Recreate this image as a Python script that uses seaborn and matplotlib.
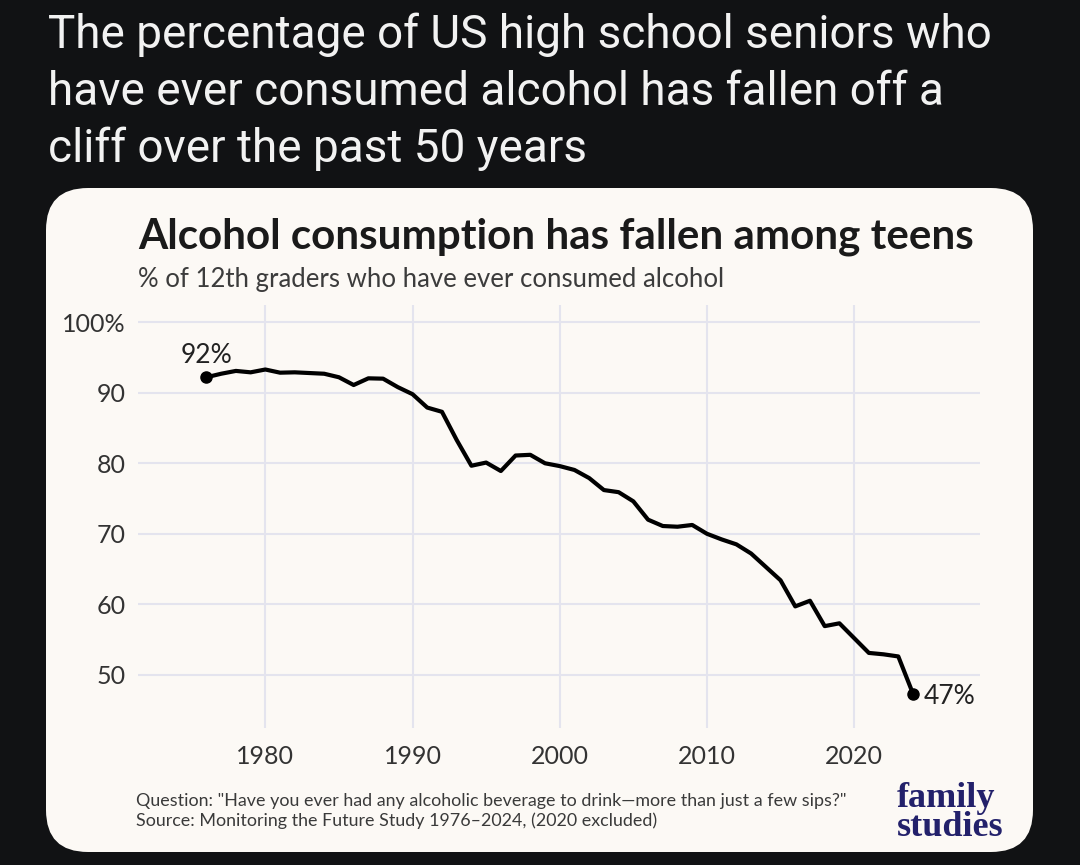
import matplotlib
matplotlib.use("Agg")
import seaborn as sns
from matplotlib import pyplot as plt
from matplotlib.patches import FancyBboxPatch

# data (2020 excluded)
years = [1976, 1977, 1978, 1979, 1980, 1981, 1982, 1983, 1984, 1985,
         1986, 1987, 1988, 1989, 1990, 1991, 1992, 1993, 1994, 1995,
         1996, 1997, 1998, 1999, 2000, 2001, 2002, 2003, 2004, 2005,
         2006, 2007, 2008, 2009, 2010, 2011, 2012, 2013, 2014, 2015,
         2016, 2017, 2018, 2019, 2021, 2022, 2023, 2024]
pct_ever_drank = [92.2, 92.7, 93.1, 92.9, 93.3, 92.85, 92.9, 92.8, 92.7, 92.2,
                  91.1, 92.05, 92.0, 90.8, 89.8, 87.9, 87.3, 83.3, 79.65, 80.1,
                  78.9, 81.1, 81.2, 80.0, 79.6, 79.05, 77.9, 76.2, 75.9, 74.6,
                  72.0, 71.1, 71.0, 71.25, 70.0, 69.2, 68.5, 67.2, 65.3, 63.4,
                  59.7, 60.5, 56.9, 57.3, 53.1, 52.9, 52.6, 47.3]

x_ticks = [1980, 1990, 2000, 2010, 2020]
y_ticks = [50, 60, 70, 80, 90, 100]
y_tick_labels = ["50", "60", "70", "80", "90", "100%"]

header_lines = ["The percentage of US high school seniors who",
                "have ever consumed alcohol has fallen off a",
                "cliff over the past 50 years"]
chart_title = "Alcohol consumption has fallen among teens"
chart_subtitle = "% of 12th graders who have ever consumed alcohol"
footnote_lines = ['Question: "Have you ever had any alcoholic beverage to drink\u2014more than just a few sips?"',
                  "Source: Monitoring the Future Study 1976\u20132024, (2020 excluded)"]
logo_text = "family\nstudies"

BG = "#111214"
CARD = "#fcf9f5"
GRID = "#e4e4ee"
INK = "#333333"

sns.set_theme(style="whitegrid")
plt.rcParams['font.family'] = ['Lato', 'DejaVu Sans']

W, H = 1080, 865
fig = plt.figure(figsize=(W / 100, H / 100), dpi=100, facecolor=BG)


def fx(px):
    return px / W


def fy(py):
    return 1 - py / H


# rounded card behind the chart
card = FancyBboxPatch((0.46, 0.13), 9.87, 6.64,
                      boxstyle="round,pad=0,rounding_size=0.42",
                      transform=fig.dpi_scale_trans, facecolor=CARD,
                      edgecolor="none", zorder=0)
fig.add_artist(card)

# header (tweet text)
for i, line in enumerate(header_lines):
    fig.text(fx(48), fy(48 + 57 * i), line, color="#f2f2f2", fontsize=33,
             family=['Roboto', 'DejaVu Sans'], va='baseline', ha='left')

ax = fig.add_axes([fx(138), fy(728), fx(980) - fx(138), fy(305) - fy(728)])
ax.set_facecolor("none")

sns.lineplot(x=years, y=pct_ever_drank, ax=ax, color="black", linewidth=3.0)
ax.plot([years[0], years[-1]], [pct_ever_drank[0], pct_ever_drank[-1]],
        linestyle="none", marker="o", markersize=8, color="black")

ax.set_xlim(1971.35, 2028.55)
ax.set_ylim(42.45, 102.45)
ax.set_xticks(x_ticks)
ax.set_xticklabels([str(y) for y in x_ticks])
ax.set_yticks(y_ticks)
ax.set_yticklabels(y_tick_labels)
ax.grid(True, color=GRID, linewidth=1.5)
ax.tick_params(axis='both', length=0, labelsize=18, labelcolor=INK)
ax.tick_params(axis='y', pad=9)
ax.tick_params(axis='x', pad=12)
for s in ax.spines.values():
    s.set_visible(False)
ax.set_xlabel("")
ax.set_ylabel("")

ax.annotate(f"{round(pct_ever_drank[0])}%", xy=(years[0], pct_ever_drank[0]),
            xytext=(0, 10), textcoords='offset points', ha='center',
            va='baseline', fontsize=19, color="#222222")
ax.annotate(f"{round(pct_ever_drank[-1])}%", xy=(years[-1], pct_ever_drank[-1]),
            xytext=(8, 0), textcoords='offset points', ha='left',
            va='center_baseline', fontsize=19, color="#222222")

# chart title and subtitle
fig.text(fx(138), fy(248), chart_title, fontsize=30.3, fontweight='bold',
         color="#1a1a1a", va='baseline', ha='left')
fig.text(fx(138), fy(287), chart_subtitle, fontsize=18.5, color="#3c3c3c",
         va='baseline', ha='left')

# footnote
for i, line in enumerate(footnote_lines):
    fig.text(fx(136), fy(806 + 20 * i), line, fontsize=12.9, color="#3a3a3a",
             va='baseline', ha='left')

# logo
fig.text(fx(897), fy(836), logo_text, fontsize=26, fontweight='bold',
         family=['Liberation Serif', 'DejaVu Serif'], color="#23216b",
         va='baseline', ha='left', multialignment='left', linespacing=0.84)

fig.savefig("out.png", dpi=100, facecolor=fig.get_facecolor())
